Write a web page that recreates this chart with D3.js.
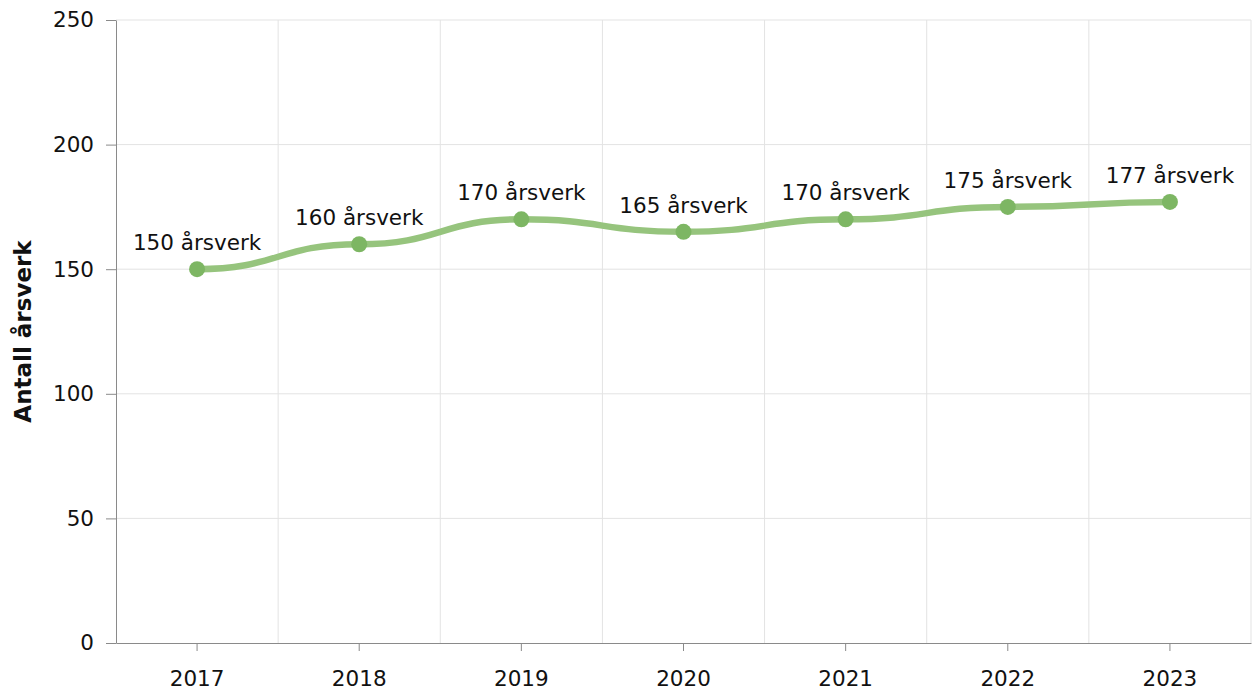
<!DOCTYPE html>
<html>
<head>
<meta charset="utf-8">
<style>
  body { margin: 0; background: #fff; }
  svg text { font-family: Verdana, "DejaVu Sans", sans-serif; fill: #111; }
</style>
</head>
<body>
<svg width="1258" height="695"></svg>
<script src="https://d3js.org/d3.v7.min.js"></script>
<script>
const years = ["2017", "2018", "2019", "2020", "2021", "2022", "2023"];
const values = [150, 160, 170, 165, 170, 175, 177];
const yTicks = [0, 50, 100, 150, 200, 250];
const unit = "årsverk";
const yTitle = "Antall årsverk";

const svg = d3.select("svg");
const margin = {top: 20, right: 7, bottom: 52, left: 116};
const width = 1258 - margin.left - margin.right,
      height = 695 - margin.top - margin.bottom;

const g = svg.append("g").attr("transform", `translate(${margin.left},${margin.top})`);

const x = d3.scaleBand().domain(years).range([0, width]);
const y = d3.scaleLinear().domain([0, 250]).range([height, 0]);

// grid
g.append("g").selectAll("line.h")
  .data(yTicks.filter(d => d > 0))
  .join("line")
  .attr("x1", 0).attr("x2", width)
  .attr("y1", d => y(d)).attr("y2", d => y(d))
  .attr("stroke", "#e3e3e3").attr("stroke-width", 1);

g.append("g").selectAll("line.v")
  .data(years)
  .join("line")
  .attr("x1", d => x(d) + x.bandwidth())
  .attr("x2", d => x(d) + x.bandwidth())
  .attr("y1", 0).attr("y2", height)
  .attr("stroke", "#e3e3e3").attr("stroke-width", 1);

// axes
const yAxis = g.append("g")
  .call(d3.axisLeft(y).tickValues(yTicks).tickSize(10).tickPadding(12).tickSizeOuter(0));
yAxis.select(".domain").attr("stroke", "#8a8a8a");
yAxis.selectAll(".tick line").attr("stroke", "#8a8a8a");
yAxis.selectAll("text").style("font-size", "21.5px");

const xAxis = g.append("g")
  .attr("transform", `translate(0,${height})`)
  .call(d3.axisBottom(x).tickSize(8).tickPadding(20).tickSizeOuter(0));
xAxis.select(".domain").attr("stroke", "#8a8a8a");
xAxis.selectAll(".tick line").attr("stroke", "#8a8a8a");
xAxis.selectAll("text").style("font-size", "21.5px");

svg.append("text")
  .attr("transform", `translate(31,${margin.top + height / 2}) rotate(-90)`)
  .attr("text-anchor", "middle")
  .style("font-size", "23px")
  .style("font-weight", "bold")
  .text(yTitle);

// line
const data = years.map((yr, i) => ({year: yr, value: values[i]}));
const cx = d => x(d.year) + x.bandwidth() / 2;
const line = d3.line()
  .x(cx)
  .y(d => y(d.value))
  .curve(d3.curveBumpX);

g.append("path")
  .datum(data)
  .attr("d", line)
  .attr("fill", "none")
  .attr("stroke", "#96c47d")
  .attr("stroke-width", 6.5)
  .attr("stroke-linecap", "round");

g.append("g").selectAll("circle")
  .data(data)
  .join("circle")
  .attr("cx", cx)
  .attr("cy", d => y(d.value))
  .attr("r", 8)
  .attr("fill", "#7db663");

g.append("g").selectAll("text")
  .data(data)
  .join("text")
  .attr("x", cx)
  .attr("y", d => y(d.value) - 19)
  .attr("text-anchor", "middle")
  .style("font-size", "21.5px")
  .text(d => `${d.value} ${unit}`);
</script>
</body>
</html>
